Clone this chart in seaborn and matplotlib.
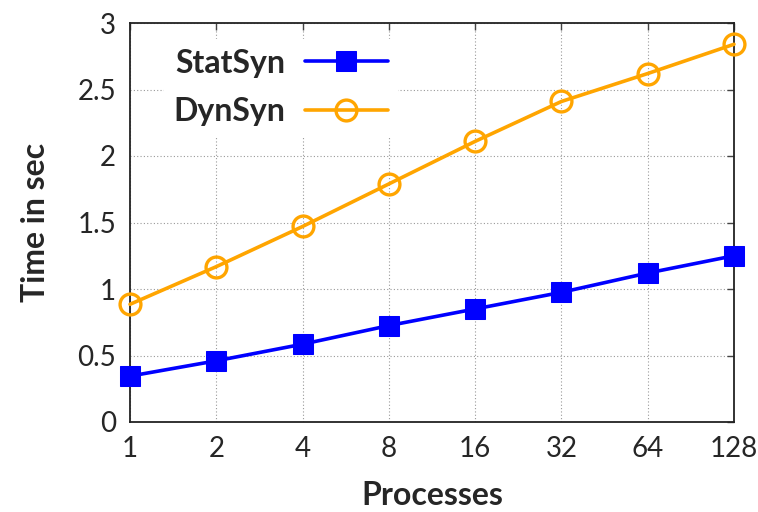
import matplotlib
matplotlib.use("Agg")
import matplotlib.pyplot as plt
import seaborn as sns
import pandas as pd

processes = ["1", "2", "4", "8", "16", "32", "64", "128"]
statsyn = [0.345, 0.46, 0.585, 0.725, 0.85, 0.975, 1.12, 1.25]
dynsyn = [0.885, 1.168, 1.47, 1.79, 2.11, 2.41, 2.62, 2.84]

sns.set_theme(style="white")
plt.rcParams['font.family'] = ['Lato', 'DejaVu Sans']

fig = plt.figure(figsize=(7.58, 5.12), dpi=100)
ax = fig.add_axes([130/758, 90/512, (734-130)/758, (422-23)/512])

pos = list(range(len(processes)))
df_s = pd.DataFrame({"x": pos, "y": statsyn})
df_d = pd.DataFrame({"x": pos, "y": dynsyn})

sns.lineplot(data=df_s, x="x", y="y", ax=ax, color="#0000FF", lw=2.6,
             marker="s", markersize=14, markeredgecolor="#0000FF",
             label="StatSyn", clip_on=False, zorder=3)
sns.lineplot(data=df_d, x="x", y="y", ax=ax, color="#FFA500", lw=2.6,
             marker="o", markersize=15, markerfacecolor="none",
             markeredgecolor="#FFA500", markeredgewidth=2.4,
             label="DynSyn", clip_on=False, zorder=3)

ax.set_xlim(0, len(processes) - 1)
ax.set_ylim(0, 3)
ax.set_xticks(pos)
ax.set_xticklabels(processes)
ax.set_yticks([0, 0.5, 1, 1.5, 2, 2.5, 3])
ax.set_yticklabels(["0", "0.5", "1", "1.5", "2", "2.5", "3"])
ax.tick_params(axis="both", which="both", direction="in", length=5, width=1,
               labelsize=20, top=True, right=True, color="#444444", pad=10)
ax.grid(True, linestyle=(0, (1, 2)), color="#999999", lw=0.8)
for s in ax.spines.values():
    s.set_color("#222222")
    s.set_linewidth(1.3)
    s.set_visible(True)

ax.set_xlabel("Processes", fontsize=23, fontweight="bold", labelpad=14)
ax.set_ylabel("Time in sec", fontsize=23, fontweight="bold", labelpad=20)

leg = ax.legend(loc="upper left", bbox_to_anchor=(0.03, 1.0), frameon=True,
                markerfirst=False, fontsize=23, handlelength=2.6,
                handletextpad=0.6, labelspacing=0.6, borderpad=0.3)
leg.get_frame().set_facecolor("white")
leg.get_frame().set_edgecolor("white")
leg.get_frame().set_alpha(1)
for t in leg.get_texts():
    t.set_fontweight("bold")

fig.savefig("out.png", dpi=100)
